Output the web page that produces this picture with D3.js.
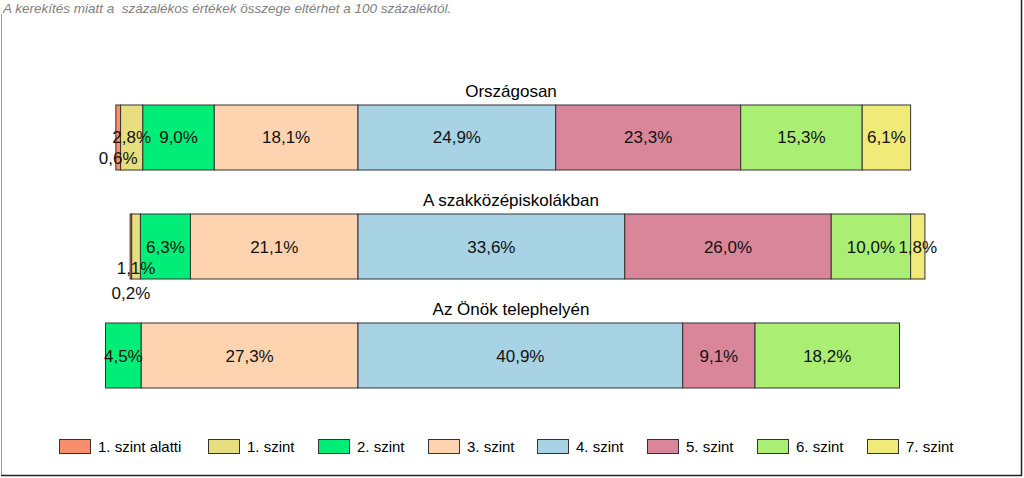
<!DOCTYPE html>
<html>
<head>
<meta charset="utf-8">
<script src="https://cdn.jsdelivr.net/npm/d3@7"></script>
<style>
  body { margin: 0; background: #fff; }
  svg { display: block; font-family: "Liberation Sans", Arial, sans-serif; }
</style>
</head>
<body>
<div id="chart"></div>
<script>
// szintek (kategóriák) és a három csoport adatai
const levels = ["1. szint alatti", "1. szint", "2. szint", "3. szint", "4. szint", "5. szint", "6. szint", "7. szint"];
const groups = ["Országosan", "A szakközépiskolákban", "Az Önök telephelyén"];
const orszagosan = [0.6, 2.8, 9.0, 18.1, 24.9, 23.3, 15.3, 6.1];
const szakkozep = [0.2, 1.1, 6.3, 21.1, 33.6, 26.0, 10.0, 1.8];
const telephely = [0, 0, 4.5, 27.3, 40.9, 9.1, 18.2, 0];
const levelColors = ["#F98E6C", "#E7DE80", "#00EE78", "#FDD4AF", "#A7D3E4", "#D9869A", "#AAEE74", "#F0EA78"];

const W = 1024, H = 478;
const svg = d3.select("#chart").append("svg").attr("width", W).attr("height", H);

// keret
svg.append("line").attr("x1", 1.5).attr("x2", 1.5).attr("y1", 14).attr("y2", 476)
  .attr("stroke", "#999").attr("stroke-width", 1);
svg.append("line").attr("x1", 1021.5).attr("x2", 1021.5).attr("y1", 0).attr("y2", 476)
  .attr("stroke", "#222").attr("stroke-width", 1.5);
svg.append("line").attr("x1", 1).attr("x2", 1022).attr("y1", 475.5).attr("y2", 475.5)
  .attr("stroke", "#222").attr("stroke-width", 1.5);

// megjegyzés felül
svg.append("text")
  .attr("x", 3).attr("y", 13)
  .attr("font-size", "13.5px").attr("font-style", "italic").attr("fill", "#808080")
  .style("white-space", "pre")
  .text("A kerekítés miatt a  százalékos értékek összege eltérhet a 100 százaléktól.");

// skálák: a 3. és 4. szint határa kerül a 0 pontra
const x = d3.scaleLinear().domain([-40, 80]).range([40.4, 993.2]);
const y = d3.scaleBand().domain(groups).range([83.2, 409.8]).paddingInner(0.4037).paddingOuter(0.2);
const color = d3.scaleOrdinal().domain(levels).range(levelColors);

const rows = [orszagosan, szakkozep, telephely].map((vals, gi) => {
  const start = -d3.sum(vals.slice(0, 4));
  const ends = Array.from(d3.cumsum(vals));
  return vals.map((v, i) => ({
    group: groups[gi], gi, level: levels[i], li: i, value: v,
    x0: start + ends[i] - v, x1: start + ends[i]
  })).filter(d => d.value > 0);
});

const fmt = v => v.toFixed(1).replace(".", ",") + "%";

// kis szeletek címkéinek eltolása (Excel-szerű elhelyezés)
function labelShift(d) {
  if (d.value < 0.5) return 46;
  if (d.value < 1.5) return 21;
  return 0;
}

const g = svg.selectAll("g.bar").data(rows).enter().append("g").attr("class", "bar");

g.append("text")
  .attr("x", 511).attr("y", (d, i) => y(groups[i]) - 8.5)
  .attr("text-anchor", "middle").attr("font-size", "17px").attr("fill", "#000")
  .text((d, i) => groups[i]);

g.selectAll("rect").data(d => d).enter().append("rect")
  .attr("x", d => x(d.x0)).attr("width", d => x(d.x1) - x(d.x0))
  .attr("y", d => y(d.group)).attr("height", y.bandwidth())
  .attr("fill", d => color(d.level)).attr("stroke", "#333").attr("stroke-width", 1);

g.selectAll("text.lbl").data(d => d).enter().append("text")
  .attr("class", "lbl")
  .attr("x", d => (x(d.x0) + x(d.x1)) / 2)
  .attr("y", d => y(d.group) + y.bandwidth() / 2 + 6 + labelShift(d))
  .attr("text-anchor", "middle").attr("font-size", "17px").attr("fill", "#111")
  .text(d => fmt(d.value));

// jelmagyarázat
const legendX = [59, 208, 318, 428, 537, 647, 757, 867];
const lg = svg.selectAll("g.leg").data(levels).enter().append("g").attr("class", "leg")
  .attr("transform", (d, i) => `translate(${legendX[i]},439)`);
lg.append("rect").attr("x", 0.5).attr("y", 0.5).attr("width", 31).attr("height", 14)
  .attr("fill", d => color(d)).attr("stroke", "#333");
lg.append("text").attr("x", 39).attr("y", 13).attr("font-size", "15px").attr("fill", "#000")
  .text(d => d);
</script>
</body>
</html>
